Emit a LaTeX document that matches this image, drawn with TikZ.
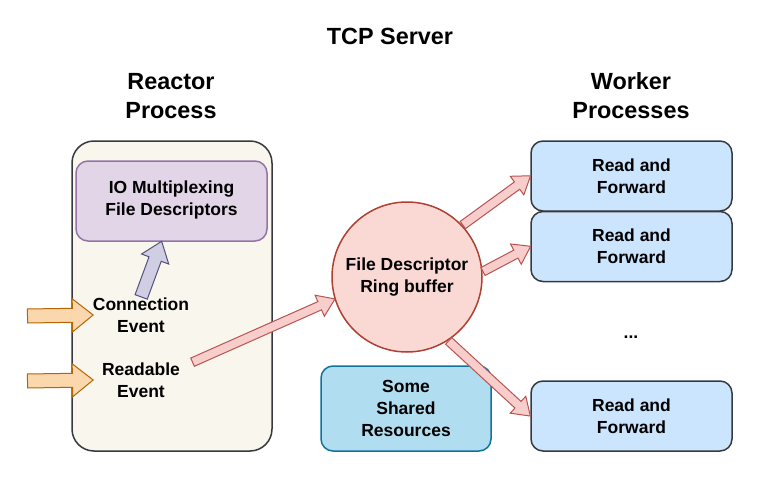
\documentclass[tikz,border=0pt]{standalone}
\usepackage{fontspec}
\setmainfont{Liberation Sans}
\usetikzlibrary{shapes.arrows,calc}

\definecolor{boxline}{HTML}{36393D}
\definecolor{reactorfill}{HTML}{F9F7ED}
\definecolor{iofill}{HTML}{E1D5E7}
\definecolor{ioline}{HTML}{9673A6}
\definecolor{purplefill}{HTML}{D0CEE2}
\definecolor{purpleline}{HTML}{56517E}
\definecolor{orangefill}{HTML}{FAD7AC}
\definecolor{orangeline}{HTML}{B46504}
\definecolor{redfill}{HTML}{F8CECC}
\definecolor{redline}{HTML}{B85450}
\definecolor{ringfill}{HTML}{FAD9D5}
\definecolor{ringline}{HTML}{AE4132}
\definecolor{workerfill}{HTML}{CCE5FF}
\definecolor{sharedfill}{HTML}{B1DDF0}
\definecolor{sharedline}{HTML}{10739E}

% block arrow from one point to another
\newcommand{\fatarrow}[3][]{%
  \path let \p1=($(#3)-(#2)$), \n1={veclen(\x1,\y1)} in
    (#2) -- (#3) node[fat, sloped, pos=0, anchor=tail, minimum height=\n1, #1] {};}

\begin{document}
\begin{tikzpicture}[x=1pt, y=-1pt, font=\bfseries\fontsize{17.5}{22}\selectfont,
  box/.style={draw=boxline, line width=1.5pt, rounded corners=12pt, align=center},
  heading/.style={align=center, font=\bfseries\fontsize{23.4}{29}\selectfont},
  label/.style={align=center, inner sep=0pt},
  fat/.style={single arrow, draw=redline, fill=redfill, line width=1pt, inner sep=4pt,
    single arrow head extend=7pt, single arrow tip angle=69, single arrow head indent=0pt},
  orangearrow/.style={draw=orangeline, fill=orangefill, inner sep=6.5pt,
    single arrow head extend=9.5pt, single arrow tip angle=77},
  purplearrow/.style={draw=purpleline, fill=purplefill, inner sep=6pt,
    single arrow head extend=8pt, single arrow tip angle=75}]
\useasboundingbox (0,0) rectangle (772,487);

\node[heading] (title) at (390,36) {TCP Server};
\node[heading] (reactorhead) at (171,96) {Reactor\\Process};
\node[heading] (workerhead) at (631,96) {Worker\\Processes};

% reactor side
\node[box, fill=reactorfill, rounded corners=22pt, minimum width=200pt, minimum height=310pt] (reactor) at (172,296) {};
\node[box, draw=ioline, fill=iofill, minimum width=191pt, minimum height=80pt] (io) at (171.5,201) {IO Multiplexing\\File Descriptors\\[-16pt]};
\node[label] (conn) at (141,315) {Connection\\Event};
\node[label] (read) at (141,380) {Readable\\Event};

% ring and workers
\node[circle, draw=ringline, fill=ringfill, line width=1.5pt, minimum size=150pt, align=center, inner sep=0pt] (ring) at (407,277) {File Descriptor\\Ring buffer};
\node[box, fill=workerfill, minimum width=201pt, minimum height=70pt] (w1) at (631.5,176) {Read and\\Forward};
\node[box, fill=workerfill, minimum width=201pt, minimum height=70pt] (w2) at (631.5,246.5) {Read and\\Forward};
\node (dots) at (631,337) {...};
\node[box, fill=workerfill, minimum width=201pt, minimum height=70pt] (w3) at (631.5,416) {Read and\\Forward};
\node[box, draw=sharedline, fill=sharedfill, minimum width=170pt, minimum height=85pt] (shared) at (406,408.5) {Some\\Shared\\Resources};

% arrows
\coordinate (in1) at (27,316);
\coordinate (in2) at (27,381);
\coordinate (tip2) at (read.west -| conn.west);
\coordinate (iotip) at ([xshift=-10pt]io.south);
\coordinate (readtail) at ([xshift=12pt]read.north east);
\fatarrow[orangearrow]{in1}{conn.west}
\fatarrow[orangearrow]{in2}{tip2}
\fatarrow[purplearrow]{conn.north}{iotip}
\fatarrow{readtail}{ring.197}
\fatarrow{ring.43}{w1.west}
\fatarrow{ring.4}{w2.west}
\fatarrow{ring.-57}{w3.west}
\end{tikzpicture}
\end{document}
